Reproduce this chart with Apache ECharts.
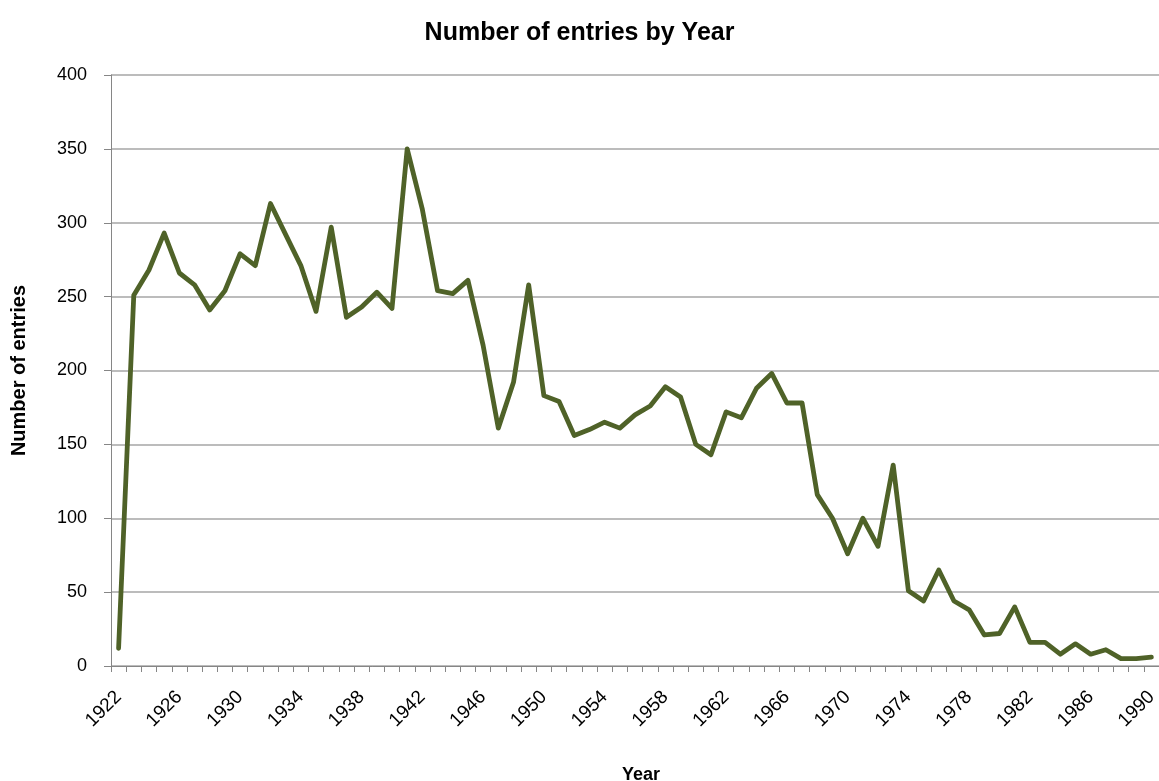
<!DOCTYPE html>
<html>
<head>
<meta charset="utf-8">
<script src="https://cdn.jsdelivr.net/npm/echarts@6/dist/echarts.min.js"></script>
<style>html,body{margin:0;padding:0;background:#fff}#c{width:1159px;height:781px}</style>
</head>
<body>
<div id="c"></div>
<script>
const years = [];
for (let y = 1922; y <= 1990; y++) years.push(String(y));
const entries = [
  12, 251, 268, 293, 266, 258, 241, 254, 279, 271,
  313, 292, 271, 240, 297, 236, 243, 253, 242, 350,
  309, 254, 252, 261, 217, 161, 192, 258, 183, 179,
  156, 160, 165, 161, 170, 176, 189, 182, 150, 143,
  172, 168, 188, 198, 178, 178, 116, 100, 76, 100,
  81, 136, 51, 44, 65, 44, 38, 21, 22, 40,
  16, 16, 8, 15, 8, 11, 5, 5, 6
];
const yTicks = [0, 50, 100, 150, 200, 250, 300, 350, 400];

const chart = echarts.init(document.getElementById('c'));
const font = 'Liberation Sans, Arial, sans-serif';
chart.setOption({
  animation: false,
  title: {
    text: 'Number of entries by Year',
    left: 'center', top: 16,
    textStyle: { fontFamily: font, fontSize: 25, fontWeight: 'bold', color: '#000' }
  },
  grid: { left: 111, right: 0, top: 75, bottom: 115, containLabel: false, outerBoundsMode: 'none' },
  xAxis: {
    type: 'category',
    data: years,
    boundaryGap: true,
    name: 'Year',
    nameLocation: 'middle',
    nameGap: 100,
    nameTextStyle: { fontFamily: font, fontSize: 18, fontWeight: 'bold', color: '#000', padding: [0, 0, 0, 12] },
    axisLine: { lineStyle: { color: '#868686', width: 1 } },
    axisTick: { show: true, interval: 0, length: 6, lineStyle: { color: '#868686' } },
    axisLabel: { interval: 3, rotate: 45, fontFamily: font, fontSize: 19, color: '#000', margin: 28 },
    splitLine: { show: false }
  },
  yAxis: {
    type: 'value',
    min: yTicks[0], max: yTicks[yTicks.length - 1], interval: 50,
    name: 'Number of entries',
    nameLocation: 'middle',
    nameRotate: 90,
    nameGap: 82,
    nameTextStyle: { fontFamily: font, fontSize: 20, fontWeight: 'bold', color: '#000' },
    axisLine: { show: true, lineStyle: { color: '#868686', width: 1 } },
    axisTick: { show: true, length: 7, lineStyle: { color: '#868686' } },
    axisLabel: { fontFamily: font, fontSize: 18, color: '#000', margin: 24 },
    splitLine: { show: true, lineStyle: { color: '#a6a6a6', width: 1.5 } }
  },
  series: [{
    type: 'line',
    data: entries,
    symbol: 'none',
    lineStyle: { color: '#4f6228', width: 4.8, join: 'round', cap: 'round' }
  }]
});
</script>
</body>
</html>
